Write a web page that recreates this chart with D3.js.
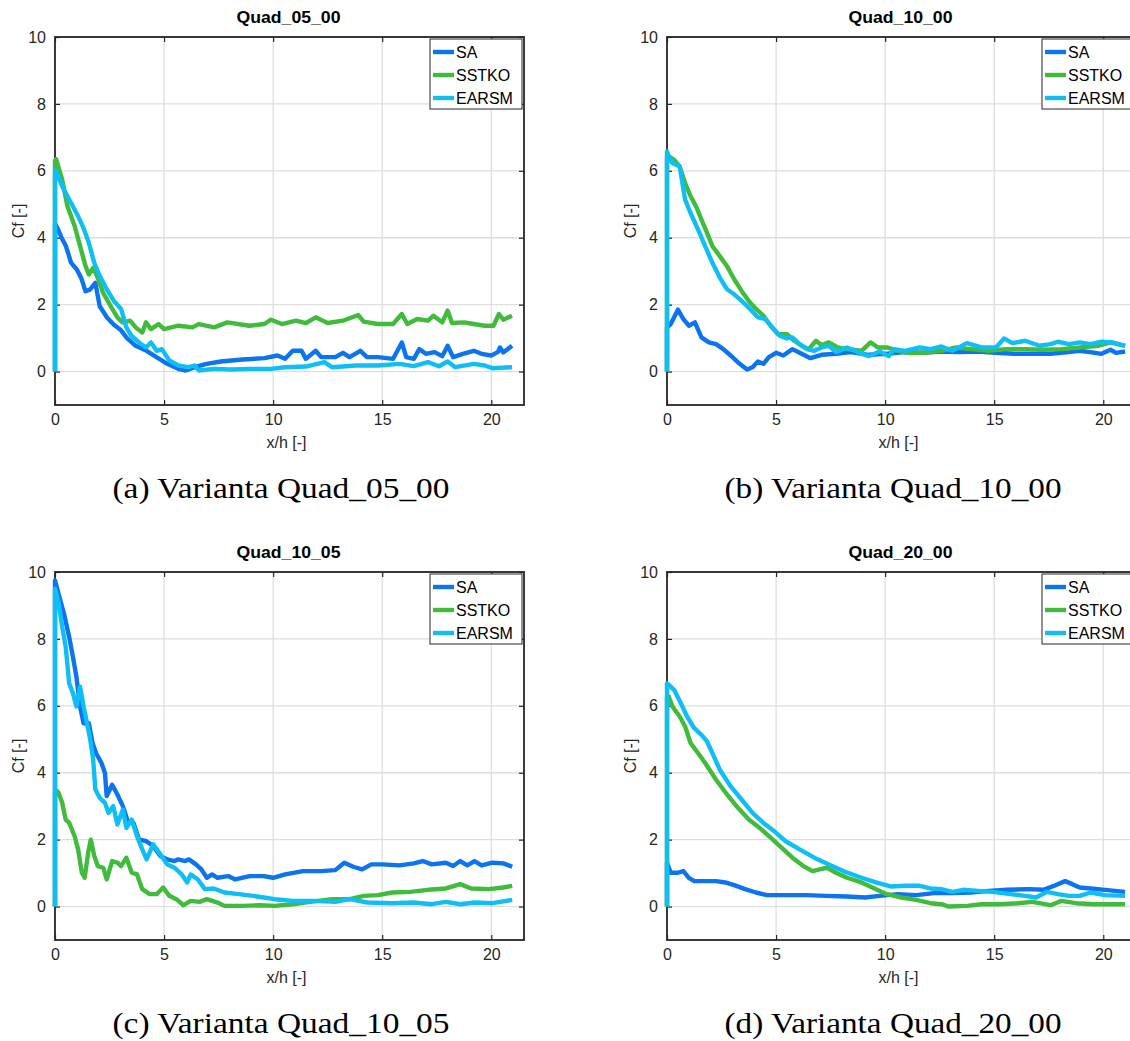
<!DOCTYPE html>
<html>
<head>
<meta charset="utf-8">
<script src="https://cdn.jsdelivr.net/npm/d3@7"></script>
<style>
  html, body { margin: 0; padding: 0; background: #fff; }
  svg { display: block; }
</style>
</head>
<body>
<svg id="fig" width="1130" height="1041"></svg>
<script>
// Skin-friction coefficient along x/h for four bump variants and three turbulence models
const panelTitles = ["Quad_05_00", "Quad_10_00", "Quad_10_05", "Quad_20_00"];
const captions = ["(a) Varianta Quad_05_00", "(b) Varianta Quad_10_00", "(c) Varianta Quad_10_05", "(d) Varianta Quad_20_00"];
const seriesNames = ["SA", "SSTKO", "EARSM"];
const xTicks = [0, 5, 10, 15, 20];
const yTicks = [0, 2, 4, 6, 8, 10];
const xLabel = "x/h [-]";
const yLabel = "Cf [-]";

// Quad_05_00
const q0500_SA = [[0,0],[0,4.42],[0.1,4.3],[0.3,4.0],[0.5,3.75],[0.74,3.25],[1.0,3.05],[1.2,2.8],[1.4,2.4],[1.6,2.45],[1.85,2.65],[2.05,1.95],[2.4,1.6],[2.7,1.4],[3.0,1.25],[3.3,1.0],[3.7,0.77],[4.2,0.62],[4.65,0.43],[5.15,0.23],[5.65,0.08],[6.0,0.03],[6.4,0.13],[6.95,0.23],[7.6,0.3],[8.6,0.36],[9.6,0.4],[10.2,0.48],[10.55,0.38],[10.9,0.62],[11.3,0.62],[11.5,0.38],[11.95,0.62],[12.2,0.43],[12.85,0.43],[13.2,0.56],[13.5,0.43],[14.0,0.62],[14.3,0.43],[14.8,0.43],[15.5,0.38],[15.9,0.87],[16.1,0.43],[16.45,0.38],[16.7,0.67],[17.0,0.53],[17.4,0.58],[17.75,0.46],[18.0,0.77],[18.25,0.43],[18.7,0.53],[19.2,0.62],[19.55,0.53],[20.0,0.48],[20.3,0.58],[20.4,0.72],[20.55,0.57],[20.95,0.77]];
const q0500_SSTKO = [[0,0],[0,6.3],[0.05,6.35],[0.33,5.73],[0.57,4.94],[0.9,4.35],[1.15,3.75],[1.4,3.15],[1.55,2.9],[1.75,3.1],[1.96,2.8],[2.2,2.36],[2.55,1.96],[2.86,1.62],[3.1,1.47],[3.44,1.52],[3.7,1.32],[4.0,1.17],[4.17,1.47],[4.4,1.27],[4.75,1.42],[5.0,1.27],[5.65,1.37],[6.3,1.32],[6.6,1.42],[7.3,1.32],[7.9,1.47],[8.9,1.37],[9.6,1.42],[9.9,1.55],[10.4,1.42],[11.05,1.52],[11.5,1.45],[11.95,1.62],[12.5,1.45],[13.2,1.52],[13.9,1.69],[14.15,1.49],[14.8,1.42],[15.5,1.42],[15.9,1.72],[16.15,1.42],[16.6,1.57],[17.1,1.52],[17.35,1.67],[17.75,1.47],[18.0,1.82],[18.2,1.45],[18.75,1.47],[19.2,1.42],[19.7,1.37],[20.1,1.37],[20.35,1.72],[20.55,1.55],[20.95,1.67]];
const q0500_EARSM = [[0,0],[0,6.03],[0.1,5.9],[0.33,5.54],[0.57,5.24],[0.82,4.94],[1.06,4.64],[1.3,4.3],[1.55,3.85],[1.8,3.25],[2.05,2.86],[2.37,2.46],[2.7,2.11],[3.03,1.87],[3.27,1.32],[3.5,1.07],[3.85,0.87],[4.17,0.72],[4.4,0.87],[4.66,0.62],[4.9,0.67],[5.24,0.33],[5.65,0.18],[6.1,0.13],[6.4,0.18],[6.6,0.03],[7.3,0.08],[8.1,0.06],[8.9,0.08],[9.9,0.08],[10.55,0.13],[11.5,0.15],[12.35,0.28],[12.7,0.13],[13.8,0.18],[14.8,0.18],[15.8,0.23],[16.45,0.16],[17.1,0.28],[17.6,0.16],[18.0,0.3],[18.35,0.13],[19.2,0.23],[19.7,0.18],[20.05,0.1],[20.95,0.13]];

// Quad_10_00
const q1000_SA = [[0,0],[0,1.32],[0.17,1.42],[0.5,1.85],[0.75,1.57],[1.0,1.37],[1.28,1.47],[1.58,1.02],[1.92,0.87],[2.25,0.82],[2.58,0.67],[2.92,0.48],[3.33,0.23],[3.67,0.06],[3.92,0.13],[4.17,0.3],[4.42,0.23],[4.67,0.43],[5.0,0.56],[5.33,0.48],[5.75,0.67],[6.17,0.53],[6.58,0.4],[7.08,0.5],[7.75,0.53],[8.42,0.58],[9.25,0.5],[10.08,0.53],[10.9,0.58],[11.75,0.56],[12.58,0.6],[13.4,0.58],[14.25,0.6],[15.08,0.56],[15.9,0.53],[16.75,0.53],[17.58,0.53],[18.42,0.58],[18.9,0.62],[19.4,0.58],[19.92,0.53],[20.33,0.65],[20.58,0.56],[21.0,0.6]];
const q1000_SSTKO = [[0,0],[0,6.4],[0.08,6.43],[0.33,6.33],[0.58,6.13],[0.83,5.63],[1.08,5.24],[1.33,4.94],[1.58,4.54],[1.83,4.15],[2.08,3.75],[2.42,3.45],[2.75,3.15],[3.08,2.76],[3.42,2.41],[3.75,2.11],[4.08,1.87],[4.42,1.67],[4.75,1.37],[5.08,1.12],[5.5,1.12],[5.83,0.92],[6.17,0.77],[6.5,0.67],[6.83,0.92],[7.08,0.79],[7.42,0.87],[7.83,0.72],[8.25,0.67],[8.92,0.62],[9.33,0.87],[9.67,0.72],[10.08,0.72],[10.58,0.62],[11.08,0.56],[11.75,0.56],[12.58,0.62],[13.25,0.72],[13.92,0.67],[14.75,0.62],[15.58,0.67],[16.42,0.67],[17.25,0.65],[18.08,0.67],[18.92,0.72],[19.75,0.77],[20.33,0.87],[21.0,0.77]];
const q1000_EARSM = [[0,0],[0,6.58],[0.1,6.4],[0.25,6.23],[0.58,6.13],[0.83,5.14],[1.08,4.74],[1.42,4.25],[1.75,3.75],[2.08,3.25],[2.42,2.81],[2.75,2.46],[3.08,2.31],[3.42,2.11],[3.75,1.91],[4.17,1.62],[4.5,1.57],[4.83,1.32],[5.17,1.07],[5.5,0.99],[5.75,1.02],[6.08,0.82],[6.42,0.67],[6.75,0.62],[7.08,0.72],[7.42,0.77],[7.75,0.58],[8.25,0.72],[8.75,0.58],[9.25,0.46],[9.75,0.6],[10.17,0.46],[10.42,0.67],[10.92,0.62],[11.58,0.72],[12.08,0.67],[12.58,0.75],[13.08,0.62],[13.75,0.85],[14.42,0.72],[15.08,0.72],[15.45,0.99],[15.83,0.85],[16.42,0.92],[17.08,0.77],[17.58,0.82],[17.92,0.89],[18.42,0.82],[18.92,0.87],[19.42,0.82],[19.92,0.89],[20.42,0.87],[21.0,0.77]];

// Quad_10_05
const q1005_SA = [[0,0],[0,9.75],[0.16,9.35],[0.41,8.76],[0.65,8.06],[0.82,7.47],[0.98,6.87],[1.15,5.98],[1.31,5.48],[1.55,5.48],[1.72,4.89],[1.88,4.59],[2.13,4.29],[2.29,3.99],[2.37,3.3],[2.62,3.64],[2.86,3.35],[3.11,3.0],[3.36,2.5],[3.6,2.5],[3.85,2.0],[4.17,1.96],[4.5,1.81],[4.83,1.51],[5.15,1.41],[5.48,1.36],[5.65,1.41],[5.97,1.36],[6.14,1.41],[6.46,1.26],[6.71,1.11],[6.96,0.86],[7.2,0.96],[7.45,0.86],[7.94,0.91],[8.26,0.81],[8.92,0.91],[9.57,0.91],[10.0,0.86],[10.55,0.96],[11.37,1.06],[12.2,1.06],[12.85,1.09],[13.26,1.31],[13.67,1.19],[14.08,1.11],[14.5,1.26],[15.0,1.26],[15.8,1.23],[16.45,1.29],[16.86,1.36],[17.27,1.26],[17.92,1.31],[18.25,1.21],[18.58,1.36],[18.9,1.23],[19.23,1.36],[19.56,1.23],[20.05,1.31],[20.55,1.29],[20.96,1.19]];
const q1005_SSTKO = [[0,0],[0,3.4],[0.1,3.45],[0.16,3.4],[0.33,3.1],[0.49,2.6],[0.65,2.5],[0.9,2.1],[1.06,1.71],[1.23,1.01],[1.36,0.86],[1.52,1.61],[1.64,2.0],[1.8,1.51],[1.96,1.21],[2.21,1.16],[2.37,0.81],[2.62,1.36],[2.86,1.31],[3.03,1.21],[3.27,1.46],[3.52,1.01],[3.76,0.96],[4.0,0.52],[4.34,0.37],[4.66,0.37],[4.96,0.57],[5.24,0.32],[5.56,0.22],[5.89,0.04],[6.22,0.17],[6.63,0.14],[6.96,0.22],[7.45,0.12],[7.77,0.02],[8.6,0.02],[9.41,0.04],[10.07,0.02],[10.9,0.07],[11.7,0.14],[12.7,0.22],[13.5,0.22],[14.16,0.32],[14.8,0.34],[15.46,0.42],[16.28,0.44],[17.1,0.5],[17.92,0.54],[18.58,0.67],[19.07,0.54],[19.89,0.52],[20.55,0.57],[20.96,0.62]];
const q1005_EARSM = [[0,0],[0,9.5],[0.16,9.1],[0.33,8.36],[0.49,7.77],[0.65,6.67],[0.82,6.38],[0.98,5.98],[1.15,6.57],[1.31,5.98],[1.47,5.48],[1.64,4.89],[1.75,4.39],[1.85,3.5],[2.05,3.25],[2.29,3.1],[2.45,2.8],[2.67,3.0],[2.86,2.45],[3.11,2.9],[3.27,2.35],[3.52,2.6],[3.76,2.1],[4.0,1.71],[4.2,1.41],[4.5,1.86],[4.83,1.56],[5.15,1.26],[5.48,1.16],[5.81,0.96],[6.06,0.72],[6.22,0.96],[6.55,0.81],[6.87,0.52],[7.28,0.54],[7.77,0.42],[8.43,0.37],[9.08,0.32],[9.57,0.27],[10.07,0.22],[10.9,0.17],[11.87,0.17],[12.85,0.14],[13.5,0.22],[14.32,0.12],[15.46,0.1],[16.45,0.12],[17.27,0.07],[17.92,0.14],[18.58,0.07],[19.23,0.12],[20.05,0.1],[20.96,0.2]];

// Quad_20_00
const q2000_SA = [[0,0],[0,1.31],[0.17,1.01],[0.5,1.01],[0.75,1.06],[1.0,0.86],[1.25,0.76],[1.75,0.76],[2.25,0.76],[2.67,0.72],[3.08,0.64],[3.58,0.52],[4.08,0.42],[4.58,0.34],[5.42,0.34],[6.42,0.34],[7.25,0.32],[8.25,0.3],[9.08,0.27],[9.75,0.32],[10.58,0.37],[11.42,0.34],[12.25,0.4],[13.08,0.4],[13.92,0.42],[14.75,0.47],[15.58,0.5],[16.58,0.52],[17.25,0.5],[17.75,0.62],[18.25,0.76],[18.58,0.67],[18.92,0.57],[19.42,0.54],[20.08,0.5],[21.0,0.44]];
const q2000_SSTKO = [[0,0],[0,6.25],[0.08,6.28],[0.25,5.98],[0.58,5.68],[0.83,5.38],[1.08,4.89],[1.42,4.59],[1.75,4.29],[2.25,3.79],[2.75,3.35],[3.25,2.95],[3.75,2.6],[4.25,2.35],[4.75,2.06],[5.25,1.76],[5.75,1.46],[6.25,1.21],[6.67,1.06],[7.0,1.11],[7.33,1.16],[7.75,1.01],[8.25,0.86],[8.92,0.72],[9.58,0.52],[10.08,0.37],[10.75,0.27],[11.42,0.2],[12.08,0.1],[12.58,0.07],[12.92,0.0],[13.75,0.02],[14.42,0.07],[15.25,0.07],[16.08,0.1],[16.75,0.14],[17.58,0.04],[18.08,0.17],[18.75,0.1],[19.58,0.07],[21.0,0.07]];
const q2000_EARSM = [[0,0],[0,6.67],[0.1,6.62],[0.33,6.47],[0.67,6.03],[0.92,5.68],[1.25,5.33],[1.58,5.13],[1.83,4.94],[2.08,4.59],[2.42,4.09],[2.92,3.59],[3.42,3.2],[3.92,2.8],[4.42,2.5],[4.92,2.25],[5.42,1.96],[6.08,1.71],[6.75,1.46],[7.42,1.26],[8.08,1.06],[8.92,0.86],[9.58,0.72],[10.25,0.6],[10.92,0.62],[11.58,0.62],[12.08,0.54],[12.58,0.52],[13.08,0.44],[13.58,0.5],[14.25,0.47],[14.92,0.44],[15.75,0.37],[16.42,0.32],[16.92,0.27],[17.42,0.44],[17.92,0.37],[18.42,0.32],[18.92,0.32],[19.42,0.42],[20.08,0.34],[21.0,0.32]];

const panelSeries = [
  [q0500_SA, q0500_SSTKO, q0500_EARSM],
  [q1000_SA, q1000_SSTKO, q1000_EARSM],
  [q1005_SA, q1005_SSTKO, q1005_EARSM],
  [q2000_SA, q2000_SSTKO, q2000_EARSM]
];

// ---- drawing ----
const colors = ["#0b74ee", "#40bb3c", "#10bef6"];
const axisColor = "#262626";
const gridColor = "#dedede";
const sans = "'Liberation Sans', Arial, Helvetica, sans-serif";
const serif = "'Liberation Serif', 'Times New Roman', serif";
const fs = "16px";

const plotW = 469, plotH = 368;
const origins = [[55, 37], [667, 37], [55, 572], [667, 572]];

const svg = d3.select("#fig");

panelTitles.forEach((title, i) => {
  const [ox, oy] = origins[i];
  const g = svg.append("g").attr("transform", `translate(${ox},${oy})`);

  const x = d3.scaleLinear().domain([0, 21.5]).range([0, plotW]);
  const y = d3.scaleLinear().domain([-1, 10]).range([plotH, 0]);

  // grid
  g.append("g").selectAll("line").data(xTicks.filter(d => d > 0)).join("line")
    .attr("x1", d => x(d)).attr("x2", d => x(d)).attr("y1", 0).attr("y2", plotH)
    .attr("stroke", gridColor).attr("stroke-width", 1.3);
  g.append("g").selectAll("line").data(yTicks).join("line")
    .attr("x1", 0).attr("x2", plotW).attr("y1", d => y(d)).attr("y2", d => y(d))
    .attr("stroke", gridColor).attr("stroke-width", 1.3);

  // axes (ticks pointing inward, mirrored on top/right)
  const tickLen = 5;
  const bottomAxis = d3.axisBottom(x).tickValues(xTicks).tickSize(-tickLen).tickPadding(9).tickFormat(d3.format("d"));
  const leftAxis = d3.axisLeft(y).tickValues(yTicks).tickSize(-tickLen).tickPadding(9).tickFormat(d3.format("d"));
  const topAxis = d3.axisTop(x).tickValues(xTicks).tickSize(-tickLen).tickFormat("");
  const rightAxis = d3.axisRight(y).tickValues(yTicks).tickSize(-tickLen).tickFormat("");

  const styleAxis = sel => {
    sel.select(".domain").remove();
    sel.selectAll(".tick line").attr("stroke", axisColor).attr("stroke-width", 1.2);
    sel.selectAll(".tick text").attr("fill", axisColor)
      .style("font-family", sans).style("font-size", fs);
  };
  g.append("g").attr("transform", `translate(0,${plotH})`).call(bottomAxis).call(styleAxis);
  g.append("g").call(leftAxis).call(styleAxis);
  g.append("g").call(topAxis).call(styleAxis);
  g.append("g").attr("transform", `translate(${plotW},0)`).call(rightAxis).call(styleAxis);

  // frame
  g.append("rect").attr("width", plotW).attr("height", plotH)
    .attr("fill", "none").attr("stroke", axisColor).attr("stroke-width", 1.8);

  // curves, drawn over the frame
  const line = d3.line().x(d => x(d[0])).y(d => y(d[1]));
  const curves = g.append("g");
  panelSeries[i].forEach((data, s) => {
    curves.append("path").datum(data)
      .attr("d", line)
      .attr("fill", "none")
      .attr("stroke", colors[s])
      .attr("stroke-width", 4.4)
      .attr("stroke-linejoin", "round")
      .attr("stroke-linecap", "butt");
  });

  // title and axis labels
  g.append("text").attr("x", plotW / 2 - 1).attr("y", -14)
    .attr("text-anchor", "middle").style("font-family", sans)
    .style("font-size", "16px").style("font-weight", "bold").attr("fill", "#000")
    .attr("textLength", 104).attr("lengthAdjust", "spacingAndGlyphs")
    .text(title);
  g.append("text").attr("x", plotW / 2 - 3).attr("y", plotH + 43)
    .attr("text-anchor", "middle").style("font-family", sans)
    .style("font-size", fs).attr("fill", axisColor).text(xLabel);
  g.append("text")
    .attr("transform", `translate(${-31},${plotH / 2}) rotate(-90)`)
    .attr("text-anchor", "middle").style("font-family", sans)
    .style("font-size", fs).attr("fill", axisColor).text(yLabel);

  // legend
  const lg = g.append("g").attr("transform", `translate(${375},${2})`);
  lg.append("rect").attr("width", 92).attr("height", 70)
    .attr("fill", "#fff").attr("stroke", axisColor).attr("stroke-width", 1);
  seriesNames.forEach((name, s) => {
    const ly = 13 + s * 23;
    lg.append("line").attr("x1", 3).attr("x2", 24).attr("y1", ly).attr("y2", ly)
      .attr("stroke", colors[s]).attr("stroke-width", 4.4);
    lg.append("text").attr("x", 26).attr("y", ly + 6)
      .style("font-family", sans).style("font-size", fs).attr("fill", "#000")
      .text(name);
  });

  // caption below the panel
  svg.append("text")
    .attr("x", ox + 226).attr("y", oy + 461)
    .attr("text-anchor", "middle")
    .style("font-family", serif).style("font-size", "29px").attr("fill", "#000")
    .attr("textLength", 337).attr("lengthAdjust", "spacingAndGlyphs")
    .text(captions[i]);
});
</script>
</body>
</html>
